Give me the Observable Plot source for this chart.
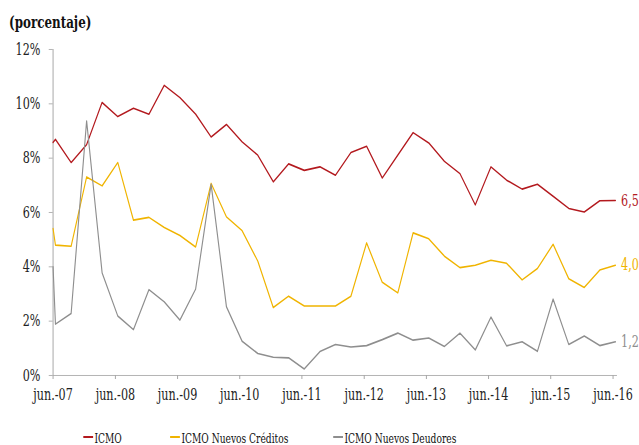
<!DOCTYPE html>
<html><head><meta charset="utf-8">
<script src="https://cdn.jsdelivr.net/npm/d3@7"></script>
<script src="https://cdn.jsdelivr.net/npm/@observablehq/plot@0.6"></script>
<style>
html,body{margin:0;padding:0;background:#fff;overflow:hidden;}
#wrap{position:relative;width:912.86px;height:445px;transform:scaleX(0.7);transform-origin:0 0;font-family:"DejaVu Serif",serif;color:#222;}
#title{position:absolute;left:12.9px;top:13.6px;font-size:17px;line-height:17px;font-weight:bold;color:#111;}
#chart{position:absolute;left:0;top:36px;}
#legend{position:absolute;top:432px;left:0;width:100%;height:13px;font-size:13px;line-height:13px;color:#111;}
.item{position:absolute;top:0;white-space:nowrap;}
.sw{position:absolute;left:0;top:4px;width:14.3px;height:2px;}
.lbl{position:absolute;left:16.4px;top:0;}
</style>
</head><body>
<div id="wrap">
  <div id="title">(porcentaje)</div>
  <div id="chart"></div>
  <div id="legend"></div>
</div>
<script>
// Quarterly observation dates
const dates = ["2007-06-01","2007-06-15","2007-09-15","2007-12-15","2008-03-15","2008-06-15","2008-09-15","2008-12-15","2009-03-15","2009-06-15","2009-09-15","2009-12-15","2010-03-15","2010-06-15","2010-09-15","2010-12-15","2011-03-15","2011-06-15","2011-09-15","2011-12-15","2012-03-15","2012-06-15","2012-09-15","2012-12-15","2013-03-15","2013-06-15","2013-09-15","2013-12-15","2014-03-15","2014-06-15","2014-09-15","2014-12-15","2015-03-15","2015-06-15","2015-09-15","2015-12-15","2016-03-15","2016-06-15"];
const icmo = [8.58,8.69,7.84,8.5,10.05,9.53,9.84,9.62,10.68,10.23,9.62,8.78,9.24,8.6,8.11,7.13,7.79,7.55,7.68,7.37,8.21,8.44,7.27,8.11,8.94,8.56,7.88,7.43,6.28,7.68,7.19,6.86,7.04,6.6,6.15,6.02,6.43,6.44];
const icmoNuevosCreditos = [5.41,4.8,4.76,7.31,6.98,7.84,5.72,5.82,5.45,5.15,4.73,7.07,5.84,5.33,4.21,2.5,2.92,2.56,2.56,2.56,2.92,4.88,3.43,3.04,5.25,5.03,4.39,3.97,4.06,4.24,4.13,3.52,3.94,4.83,3.56,3.24,3.88,4.06];
const icmoNuevosDeudores = [4.0,1.89,2.28,9.37,3.78,2.19,1.69,3.16,2.71,2.04,3.18,7.04,2.53,1.26,0.81,0.67,0.65,0.24,0.88,1.14,1.05,1.1,1.32,1.56,1.3,1.38,1.07,1.56,0.94,2.15,1.09,1.24,0.89,2.81,1.14,1.45,1.1,1.24];

const seriesNames = ["ICMO","ICMO Nuevos Créditos","ICMO Nuevos Deudores"];
const seriesColors = ["#b3191e","#f0b400","#8e8e8e"];
const endLabels = ["6,5","4,0","1,2"];

const xTickDates = ["2007-06-01","2008-06-01","2009-06-01","2010-06-01","2011-06-01","2012-06-01","2013-06-01","2014-06-01","2015-06-01","2016-06-01"];
const xTickLabels = ["jun.-07","jun.-08","jun.-09","jun.-10","jun.-11","jun.-12","jun.-13","jun.-14","jun.-15","jun.-16"];
const yTicks = [0,2,4,6,8,10,12];
const xDomain = ["2007-06-01","2016-06-26"];

const allValues = [icmo, icmoNuevosCreditos, icmoNuevosDeudores];
const series = seriesNames.map((name, k) => ({
  name, color: seriesColors[k], label: endLabels[k],
  data: dates.map((d, i) => ({date: new Date(d), value: allValues[k][i]}))
}));
const tickDates = xTickDates.map(d => new Date(d));
const labelMap = new Map(tickDates.map((d, i) => [+d, xTickLabels[i]]));

const S = 0.7;
const W = 639 / S;
const axisColor = "#a6a6a6";

const marks = [
  Plot.ruleX([new Date(xDomain[0])], {stroke: axisColor, strokeWidth: 1.4}),
  Plot.ruleY([0], {stroke: axisColor}),
  Plot.axisY({ticks: yTicks, tickFormat: d => d + "%", tickSize: 5.7, tickPadding: 12.4, stroke: axisColor, fill: "#222", label: null}),
  Plot.axisX({ticks: tickDates, tickFormat: d => labelMap.get(+d), tickSize: 4, tickPadding: 9.6, stroke: axisColor, strokeWidth: 1.4, fill: "#222", label: null})
];
for (const s of series) {
  marks.push(Plot.line(s.data, {x: "date", y: "value", stroke: s.color, strokeWidth: 1.6}));
}
for (const s of series) {
  const last = s.data[s.data.length - 1];
  marks.push(Plot.text([last], {x: "date", y: "value", text: () => s.label, fill: s.color, textAnchor: "start", dx: 8.1}));
}

const chart = Plot.plot({
  width: W, height: 375,
  marginLeft: 75.3, marginRight: W - 881.4, marginTop: 13, marginBottom: 36,
  style: {fontFamily: '"DejaVu Serif", serif', fontSize: "16px", color: "#222", background: "transparent", overflow: "visible"},
  x: {type: "utc", domain: xDomain.map(d => new Date(d))},
  y: {domain: [0, 12]},
  marks
});
document.getElementById("chart").appendChild(chart);

const legendLefts = [118.6, 242.9, 475.7];
const legend = document.getElementById("legend");
series.forEach((s, k) => {
  const it = document.createElement("div");
  it.className = "item";
  it.style.left = legendLefts[k] + "px";
  const sw = document.createElement("span");
  sw.className = "sw"; sw.style.background = s.color;
  const lb = document.createElement("span");
  lb.className = "lbl"; lb.textContent = s.name;
  it.appendChild(sw); it.appendChild(lb);
  legend.appendChild(it);
});
</script>
</body></html>
